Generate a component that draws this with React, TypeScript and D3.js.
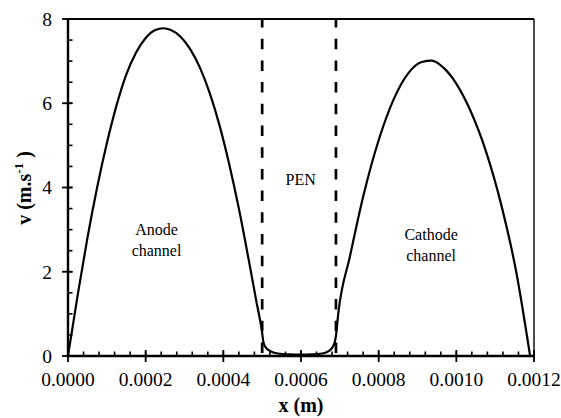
import React from "react";
import * as d3 from "d3";

const xValues = [
  0, 0.25e-4, 0.5e-4, 0.75e-4, 1.0e-4, 1.25e-4, 1.5e-4, 1.75e-4, 2.0e-4, 2.25e-4, 2.45e-4, 2.65e-4, 2.9e-4, 3.15e-4, 3.4e-4, 3.65e-4, 3.9e-4, 4.15e-4, 4.4e-4, 4.65e-4, 4.85e-4, 5.0e-4,
  5.03e-4, 5.08e-4, 5.2e-4, 5.4e-4, 5.7e-4, 6.0e-4, 6.3e-4, 6.55e-4, 6.72e-4, 6.82e-4, 6.87e-4, 6.9e-4,
  6.96e-4, 7.26e-4, 7.6e-4, 8.03e-4, 8.38e-4, 8.76e-4, 9.11e-4, 9.37e-4, 9.66e-4, 10.01e-4, 10.35e-4, 10.78e-4, 11.17e-4, 11.55e-4, 11.9e-4,
];
const vValues = [
  0, 1.45, 2.8, 4.0, 5.05, 5.95, 6.68, 7.2, 7.55, 7.74, 7.78, 7.74, 7.58, 7.28, 6.84, 6.24, 5.48, 4.56, 3.5, 2.3, 1.3, 0.55,
  0.34, 0.22, 0.12, 0.06, 0.04, 0.035, 0.04, 0.06, 0.12, 0.22, 0.33, 0.48,
  1.01, 2.36, 3.78, 5.21, 6.08, 6.71, 6.98, 7.01, 6.85, 6.45, 5.85, 4.81, 3.54, 1.96, 0.0,
];
const xTicks = [0, 0.0002, 0.0004, 0.0006, 0.0008, 0.001, 0.0012];
const yTicks = [0, 2, 4, 6, 8];
const boundaries = [0.0005, 0.00069];
const regionLabels = [
  { x: 0.000228, v: 2.87, lines: ["Anode", "channel"] },
  { x: 0.000599, v: 4.05, lines: ["PEN"] },
  { x: 0.000935, v: 2.75, lines: ["Cathode", "channel"] },
];

const W = 561, H = 418;
const M = { left: 68, top: 19, right: 534, bottom: 356 };
const FONT = "Liberation Serif";

export default function App() {
  const x = d3.scaleLinear().domain([0, 0.0012]).range([M.left, M.right]);
  const y = d3.scaleLinear().domain([0, 8]).range([M.bottom, M.top]);
  const pts = xValues.map((xv, i) => [xv, vValues[i]] as [number, number]);
  const line = d3.line<[number, number]>().x(d => x(d[0])).y(d => y(d[1])).curve(d3.curveMonotoneX);
  const xMinor = d3.range(0, 0.0012 + 1e-9, 0.00004);
  const yMinor = d3.range(0, 8.001, 0.5);
  return (
    <svg width={W} height={H} style={{ position: "absolute", left: 0, top: 0, background: "#fff" }} fontFamily={FONT}>
      <rect x={0} y={0} width={W} height={H} fill="#fff" />
      <line x1={M.left} x2={M.right} y1={M.top} y2={M.top} stroke="#000" strokeWidth={1.8} />
      <line x1={M.right} x2={M.right} y1={M.top} y2={M.bottom} stroke="#000" strokeWidth={1.4} />
      {xMinor.map((t, i) => (
        <line key={"xm" + i} x1={x(t)} x2={x(t)} y1={M.bottom} y2={M.bottom - 4.5} stroke="#000" strokeWidth={1.6} />
      ))}
      {yMinor.map((t, i) => (
        <line key={"ym" + i} x1={M.left} x2={M.left + 4.5} y1={y(t)} y2={y(t)} stroke="#000" strokeWidth={1.6} />
      ))}
      {xTicks.map((t, i) => (
        <g key={"xt" + i}>
          <line x1={x(t)} x2={x(t)} y1={M.bottom - 6} y2={M.bottom + 6} stroke="#000" strokeWidth={1.8} />
          <text x={x(t)} y={386} textAnchor="middle" fontSize={19.5} fontFamily={FONT}>{t.toFixed(4)}</text>
        </g>
      ))}
      {yTicks.map((t, i) => (
        <g key={"yt" + i}>
          <line x1={M.left - 6} x2={M.left + 4.5} y1={y(t)} y2={y(t)} stroke="#000" strokeWidth={1.8} />
          <text x={52} y={y(t)} dy="0.35em" textAnchor="end" fontSize={19.5} fontFamily={FONT}>{t}</text>
        </g>
      ))}
      <line x1={M.left} x2={M.left} y1={M.top - 1} y2={M.bottom + 1} stroke="#000" strokeWidth={2.4} />
      <line x1={M.left - 1} x2={M.right + 1} y1={M.bottom} y2={M.bottom} stroke="#000" strokeWidth={2.4} />
      {boundaries.map((b, i) => (
        <line key={"b" + i} x1={x(b)} x2={x(b)} y1={M.top} y2={M.bottom} stroke="#000" strokeWidth={2.7} strokeDasharray="10.5,11.2" strokeDashoffset={2} />
      ))}
      <path d={line(pts) || ""} fill="none" stroke="#000" strokeWidth={2.2} strokeLinejoin="round" />
      {regionLabels.map((r, i) => (
        <text key={"r" + i} x={x(r.x)} y={y(r.v)} textAnchor="middle" fontSize={16} fontFamily={FONT}>
          {r.lines.map((l, j) => (
            <tspan key={j} x={x(r.x)} dy={j === 0 ? 0 : 20.5}>{l}</tspan>
          ))}
        </text>
      ))}
      <text x={301} y={412} textAnchor="middle" fontSize={20} fontWeight="bold" fontFamily={FONT}>x (m)</text>
      <g transform="translate(31,188) rotate(-90)">
        <text x={0} y={0} textAnchor="middle" fontSize={20} fontWeight="bold" fontFamily={FONT}>
          v (m.s<tspan dy={-8} fontSize={13}>-1</tspan><tspan dy={8}> )</tspan>
        </text>
      </g>
    </svg>
  );
}
